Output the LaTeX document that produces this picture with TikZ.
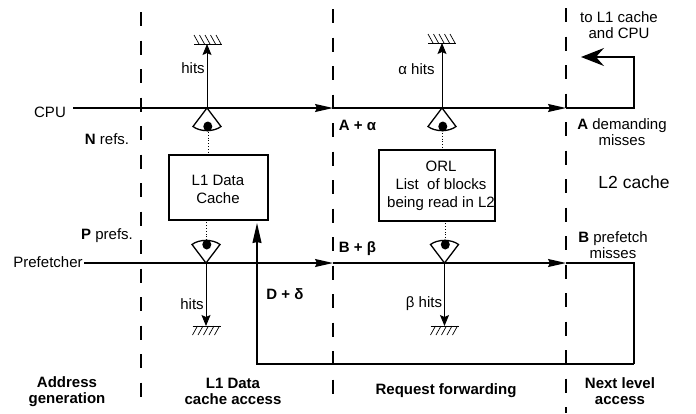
\documentclass[tikz,border=0pt]{standalone}
\usepackage{fontspec}
\setmainfont{Liberation Sans}
\usepackage{xcolor}
\usetikzlibrary{arrows.meta, positioning}

\begin{document}
\begin{tikzpicture}[
  x=1pt, y=-1pt,
  every node/.style={inner sep=0pt, align=center, font=\fontsize{15}{16}\selectfont},
  boldlabel/.style={font=\fontsize{15}{16}\selectfont\bfseries},
  boxtext/.style={font=\fontsize{15}{18.2}\selectfont},
  stagebox/.style={draw, line width=1.1pt, inner sep=0pt},
  stageline/.style={line width=1.2pt, dash pattern=on 14pt off 14.5pt},
  mainline/.style={line width=1.3pt, -{Stealth[length=18pt, width=8pt, inset=2pt]}},
  plainline/.style={line width=1.3pt},
  backline/.style={line width=1.3pt, -{Stealth[length=20pt, width=9pt, inset=1pt]}},
  bigline/.style={line width=1.3pt, -{Stealth[length=23pt, width=18pt, inset=8pt]}},
  hitline/.style={line width=0.9pt, -{Stealth[length=11pt, width=9pt, inset=2pt]}},
  lookline/.style={line width=0.8pt, dotted},
  eyepic/.pic={
    \draw[line width=1.3pt, line join=miter] (0,0) -- (14,18.5) .. controls (7,24) and (-7,24) .. (-14,18.5) -- cycle;
    \fill (0.8,18.5) ellipse (4.5pt and 5pt);
  },
  groundpic/.pic={
    \draw[line width=0.9pt] (-14,0) -- (14,0);
    \foreach \i in {-9,-3.5,2,7.5,13}
      \draw[line width=0.7pt] (\i,0) -- (\i-5,-9);
  }
]
\path[use as bounding box] (0,0) rectangle (696,413);

% stage borders
\coordinate (sep1top) at (141,12);
\coordinate (sep1bot) at (141,400);
\coordinate (sep2top) at (333,9);
\coordinate (sep2bot) at (333,400);
\coordinate (sep3top) at (566,8);
\coordinate (sep3bot) at (566,413);
\draw[stageline] (sep1top) -- (sep1bot);
\draw[stageline] (sep2top) -- (sep2bot);
\draw[stageline] (sep3top) -- (sep3bot);

\node (l1box) [stagebox, minimum width=99pt, minimum height=65pt] at (218.5,187.5) {};
\node[boxtext] (l1text) at (218,189.5) {L1 Data\\Cache};
\node (orlbox) [stagebox, minimum width=116pt, minimum height=71pt] at (437,185.5) {};
\node[boxtext] (orltext) at (441,186) {ORL\\List\ \ of blocks\\being read in L2};

\node (cpu) at (50,112) {CPU};
\node (prefetcher) at (48,262.5) {Prefetcher};
\node (nrefs) at (107,139) {\textbf{N} refs.};
\node (pprefs) at (107,236) {\textbf{P} prefs.};
\node (hitsa) at (193,68) {hits};
\node (hitsb) at (192,304) {hits};
\node (alphahits) at (416.5,69) {α hits};
\node (betahits) at (424,304) {β hits};
\node[boldlabel] (aalpha) at (357.5,125.5) {A + α};
\node[boldlabel] (bbeta) at (357.5,248.5) {B + β};
\node[boldlabel] (ddelta) at (285,294.5) {D + δ};
\node (amiss) at (622,132.5) {\textbf{A} demanding\\misses};
\node (bmiss) at (613,245) {\textbf{B} prefetch\\misses};
\node (toloneline) at (619,25.5) {to L1 cache\\and CPU};
\node (ltwo) at (634,182.5) {\fontsize{17.5}{18}\selectfont L2 cache};
\node[boldlabel] (addr) at (67,391.5) {Address\\generation};
\node[boldlabel] (loneacc) at (233,391.5) {L1 Data\\cache access};
\node[boldlabel] (reqfwd) at (446,390.5) {Request forwarding};
\node[boldlabel] (nextacc) at (620,391.5) {Next level\\access};

% demand path
\coordinate (cpustart) at (73,108);
\coordinate (cpumid) at (333,108);
\coordinate (cpuend) at (566,108);
\coordinate (cputurn) at (634,108);
\coordinate (cputip) at (581,57);
\draw[mainline] (cpustart) -- (cpumid);
\draw[mainline] (cpumid) -- (cpuend);
\draw[bigline] (cpuend) -- (cputurn) |- (cputip);

% prefetch path
\coordinate (prefstart) at (84,263);
\coordinate (prefmid) at (333,263);
\coordinate (prefend) at (566,263);
\coordinate (prefturn) at (634,263);
\coordinate (prefback) at (634,364);
\coordinate (backup) at (257,364);
\coordinate (backtip) at (257,223);
\draw[mainline] (prefstart) -- (prefmid);
\draw[mainline] (prefmid) -- (prefend);
\draw[plainline] (prefend) -- (prefturn) -- (prefback);
\draw[backline] (prefback) -- (backup) -- (backtip);

% snoop points
\coordinate (eyea) at (207,108);
\coordinate (eyeb) at (442,108);
\coordinate (eyec) at (206,263);
\coordinate (eyed) at (444.5,263);
\pic at (eyea) {eyepic};
\pic at (eyeb) {eyepic};
\pic[yscale=-1] at (eyec) {eyepic};
\pic[yscale=-1] at (eyed) {eyepic};

\coordinate (groundacoord) at (208,44);
\coordinate (groundbcoord) at (442,43);
\coordinate (groundccoord) at (206.5,326);
\coordinate (grounddcoord) at (444.5,326);
\pic at (groundacoord) {groundpic};
\pic at (groundbcoord) {groundpic};
\pic[yscale=-1] at (groundccoord) {groundpic};
\pic[yscale=-1] at (grounddcoord) {groundpic};

\draw[hitline] (eyea) -- (eyea |- groundacoord);
\draw[hitline] (eyeb) -- (eyeb |- groundbcoord);
\draw[hitline] (eyec) -- (eyec |- groundccoord);
\draw[hitline] (eyed) -- (eyed |- grounddcoord);

\draw[lookline] (208,132) -- (l1box.north -| 208,0);
\draw[lookline] (442,133) -- (orlbox.north -| 442,0);
\draw[lookline] (206,240) -- (l1box.south -| 206,0);
\draw[lookline] (445,238) -- (orlbox.south -| 445,0);
\end{tikzpicture}
\end{document}
